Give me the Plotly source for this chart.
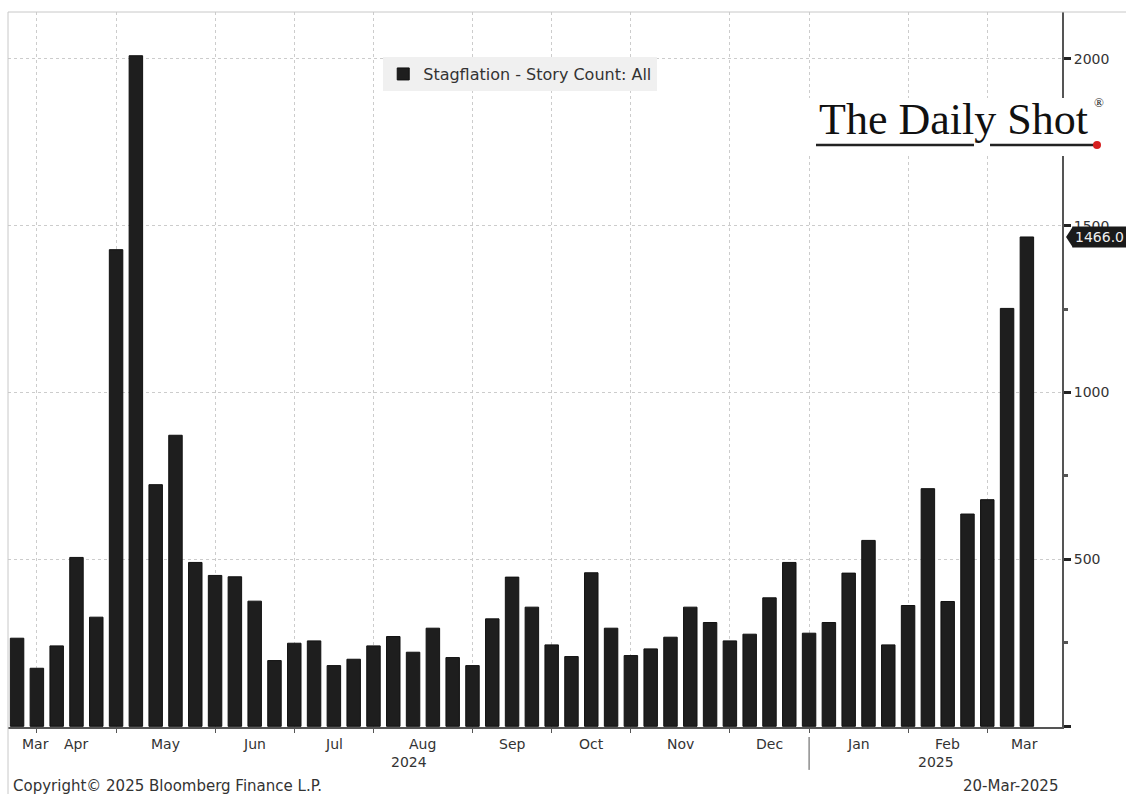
import plotly.graph_objects as go
import pandas as pd

# ---------------- data ----------------
values = [264, 174, 241, 506, 327, 1428, 2009, 724, 872, 491, 452, 448, 375,
          197, 249, 256, 182, 201, 241, 269, 222, 294, 206, 182, 322, 447,
          357, 244, 209, 460, 294, 212, 232, 267, 357, 311, 256, 276, 385,
          491, 279, 311, 459, 557, 244, 362, 712, 374, 636, 679, 1252, 1466]
week_end = pd.date_range("2024-03-29", periods=len(values), freq="7D")
month_labels = ["Mar", "Apr", "May", "Jun", "Jul", "Aug", "Sep", "Oct",
                "Nov", "Dec", "Jan", "Feb", "Mar"]
year_labels = ["2024", "2025"]
y_ticks = [0, 500, 1000, 1500, 2000]
y_ticktext = ["", "500", "1000", "1500", "2000"]
series_name = "Stagflation - Story Count: All"
last_value_text = "1466.0"

x_start = pd.Timestamp("2024-03-25 19:00")
x_end = pd.Timestamp("2025-04-02 10:00")

# first weekly observation of each month -> tick/grid positions
tick_dates = [d for d in week_end if d.day <= 7]
bounds = [x_start] + tick_dates + [x_end]
label_pos = [bounds[i] + (bounds[i + 1] - bounds[i]) / 2 for i in range(len(bounds) - 1)]
jan_tick = [d for d in tick_dates if d.month == 1][0]
year_pos = [x_start + (jan_tick - x_start) / 2, jan_tick + (x_end - jan_tick) / 2]

TXT = "#333333"
FONT = "DejaVu Sans"

fig = go.Figure()
fig.add_trace(go.Bar(
    x=week_end, y=values, name=series_name,
    marker=dict(color="#1e1e1e", line=dict(color="#111111", width=1)),
    showlegend=True,
))

fig.update_layout(
    width=1126, height=794,
    margin=dict(l=8, r=64, t=12, b=67),
    paper_bgcolor="white", plot_bgcolor="white",
    bargap=0.32,
    font=dict(family=FONT, size=14, color=TXT),
    showlegend=True,
    legend=dict(x=0.356, y=0.937, xanchor="left", yanchor="top",
                bgcolor="#f0f0f0", borderwidth=0,
                font=dict(family=FONT, size=16, color=TXT),
                itemwidth=30),
    xaxis=dict(type="date", range=[x_start, x_end],
               tickvals=tick_dates, showticklabels=False,
               ticks="outside", ticklen=4, tickcolor="#555555",
               showgrid=True, gridcolor="#cccccc", griddash="dot", gridwidth=1,
               showline=True, linecolor="#555555", linewidth=2,
               zeroline=False),
    yaxis=dict(side="right", range=[-2, 2140],
               tickvals=y_ticks, ticktext=y_ticktext,
               ticks="outside", ticklen=7, tickwidth=3, tickcolor="#222222",
               minor=dict(tickvals=[250, 750, 1250, 1750], ticks="outside",
                          ticklen=4, tickcolor="#555555", showgrid=False),
               showgrid=True, gridcolor="#cccccc", griddash="dot", gridwidth=1,
               showline=True, linecolor="#555555", linewidth=2,
               zeroline=False,
               tickfont=dict(family=FONT, size=14, color=TXT)),
)

# month labels
for i, (lab, pos) in enumerate(zip(month_labels, label_pos)):
    if i == 0:
        fig.add_annotation(x=x_start, y=-0.024, xref="x", yref="paper", text=lab,
                           showarrow=False, xanchor="left", yanchor="middle", xshift=12,
                           font=dict(family=FONT, size=14, color=TXT))
    else:
        fig.add_annotation(x=pos, y=-0.024, xref="x", yref="paper", text=lab,
                           showarrow=False, xanchor="center", yanchor="middle",
                           font=dict(family=FONT, size=14, color=TXT))
for lab, pos in zip(year_labels, year_pos):
    fig.add_annotation(x=pos, y=-0.049, xref="x", yref="paper", text=lab,
                       showarrow=False, xanchor="center", yanchor="middle",
                       font=dict(family=FONT, size=14, color=TXT))
# year separator
fig.add_shape(type="line", xref="x", yref="paper", x0=jan_tick, x1=jan_tick,
              y0=-0.014, y1=-0.060, line=dict(color="#555555", width=1))

# footer
fig.add_annotation(x=0.003, y=-0.0825, xref="paper", yref="paper",
                   text="Copyright\u00a9 2025 Bloomberg Finance L.P.",
                   showarrow=False, xanchor="left", yanchor="middle",
                   font=dict(family=FONT, size=15, color=TXT))
fig.add_annotation(x=0.998, y=-0.0825, xref="paper", yref="paper",
                   text="20-Mar-2025", showarrow=False, xanchor="right", yanchor="middle",
                   font=dict(family=FONT, size=15, color=TXT))

# frame lines
fig.add_shape(type="line", xref="paper", yref="paper", x0=0, x1=1.07, y0=1, y1=1,
              line=dict(color="#c8c8c8", width=1))
fig.add_shape(type="line", xref="paper", yref="paper", x0=0, x1=0, y0=1, y1=-0.094,
              line=dict(color="#c8c8c8", width=1))

# last value label
fig.add_shape(type="path", xref="paper", yref="y",
              path="M 1.0038,1466 L 1.0105,1498 L 1.0105,1434 Z",
              fillcolor="#1a1a1a", line=dict(width=0))
fig.add_annotation(x=1.0095, y=values[-1], xref="paper", yref="y",
                   text=last_value_text, showarrow=False,
                   xanchor="left", yanchor="middle",
                   bgcolor="#1a1a1a", borderpad=2,
                   font=dict(family=FONT, size=14, color="#eeeeee"))

# logo
fig.add_shape(type="rect", xref="paper", yref="paper",
              x0=0.756, x1=1.0474, y0=0.7986, y1=0.8797,
              fillcolor="white", line=dict(width=0), layer="above")
fig.add_annotation(x=0.8966, y=0.8490, xref="paper", yref="paper",
                   text="The Daily Shot", showarrow=False,
                   xanchor="center", yanchor="middle",
                   font=dict(family="Liberation Serif", size=44, color="#111111"))
fig.add_annotation(x=1.0352, y=0.874, xref="paper", yref="paper",
                   text="\u00ae", showarrow=False, xanchor="center", yanchor="middle",
                   font=dict(family="Liberation Serif", size=13, color="#1a1a1a"))
fig.add_shape(type="line", xref="paper", yref="paper", x0=0.7666, x1=0.9165,
              y0=0.8140, y1=0.8140, line=dict(color="#222222", width=2.5), layer="above")
fig.add_shape(type="line", xref="paper", yref="paper", x0=0.9317, x1=1.0332,
              y0=0.8140, y1=0.8140, line=dict(color="#222222", width=2.5), layer="above")
fig.add_shape(type="circle", xref="paper", yref="paper", x0=1.0294, x1=1.0370,
              y0=0.8084, y1=0.8196, fillcolor="#d62020", line=dict(width=0), layer="above")

fig.write_html("out.html")
